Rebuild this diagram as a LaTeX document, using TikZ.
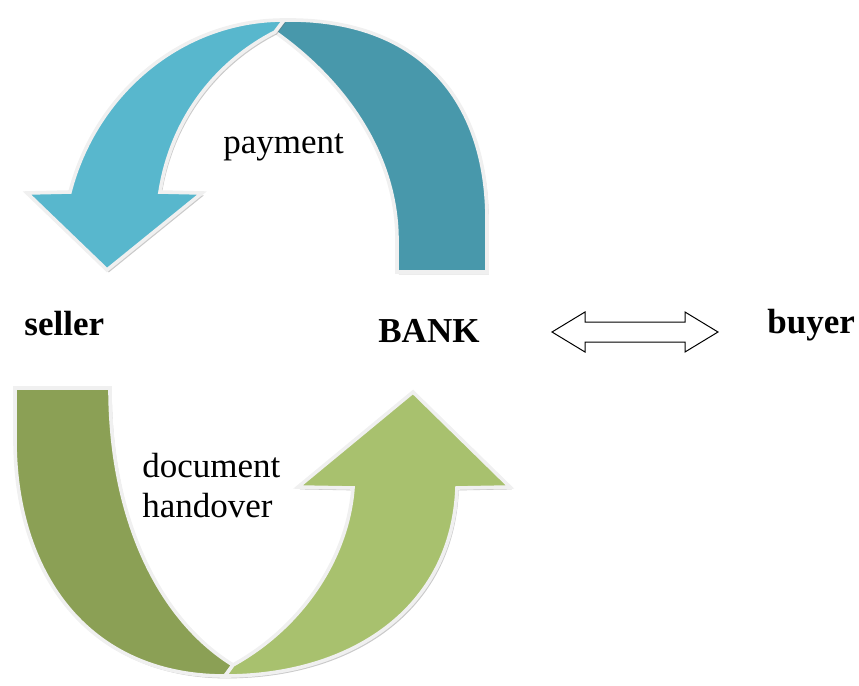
\documentclass[tikz,border=0pt]{standalone}
\usepackage{xcolor}
\usepackage{fontspec}
\setmainfont{Liberation Serif}
\usepackage{tikz}
\usetikzlibrary{calc}
\usetikzlibrary{shadows}

\definecolor{payLight}{HTML}{58B7CD}
\definecolor{payDark}{HTML}{4898AB}
\definecolor{docDark}{HTML}{8BA055}
\definecolor{docLight}{HTML}{A8C16E}

\tikzset{
	band/.style={draw=black!6, line width=1.8pt, line join=miter,
		drop shadow={shadow xshift=0.9pt, shadow yshift=-1.2pt, opacity=0.35, fill=black!60}},
	lbl/.style={font=\fontsize{17.5}{21}\selectfont, inner sep=0pt, anchor=base west},
	bold lbl/.style={lbl, font=\fontsize{17.5}{21}\selectfont\bfseries}
}

\begin{document}
\begin{tikzpicture}[x=0.5pt, y=-0.5pt]
		\useasboundingbox (0,0) rectangle (859,686);
		
		\coordinate (S) at (24,335);
		\coordinate (B) at (378,342);
		\coordinate (U) at (767,333);
		
		\node[bold lbl] (seller) at (S) {seller};
		\node[bold lbl] (bank) at (B) {BANK};
		\node[bold lbl] (buyer) at (U) {buyer};
		
		\filldraw[band, fill=payDark] (397,272) -- (487,272) -- (487,220)
			.. controls (487,100) and (420,18) .. (284,20) -- (275,32)
			.. controls (350,85) and (397,160) .. (397,240) -- cycle;
		\filldraw[band, fill=payLight] (284,20)
			.. controls (180,20) and (95,95) .. (70,192)
			-- (27,193) -- (107,270) -- (202,193) -- (160,192)
			.. controls (172,115) and (220,60) .. (275,32) -- cycle;
		
		\filldraw[band, fill=docDark] (15,388) -- (110,388)
			.. controls (110,520) and (160,620) .. (233,665) -- (225,676)
			.. controls (85,676) and (15,570) .. (15,440) -- cycle;
		\filldraw[band, fill=docLight] (225,676)
			.. controls (350,676) and (452,610) .. (457,488)
			-- (510,487) -- (413,392) -- (298,487) -- (353,488)
			.. controls (348,555) and (305,625) .. (233,665) -- cycle;
		
		\node[lbl] (pay) at (223,153) {payment};
		\node[lbl] (doc) at (142,477) {document};
		\node[lbl] (hand) at (142,517) {handover};
		
		\coordinate (L) at (552,332);
		\coordinate (R) at (718,332);
		\filldraw[fill=white, draw=black, line width=0.5pt, line join=miter]
			(L) -- ++(33,-20) -- ++(0,10) -- ++(100,0) -- ++(0,-10) -- (R)
			-- ++(-33,20) -- ++(0,-10) -- ++(-100,0) -- ++(0,10) -- cycle;
	\end{tikzpicture}
\end{document}
